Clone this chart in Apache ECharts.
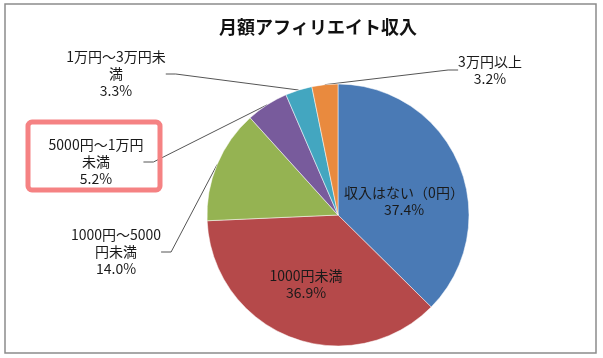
<!DOCTYPE html>
<html>
<head>
<meta charset="utf-8">
<script src="https://cdn.jsdelivr.net/npm/echarts@6/dist/echarts.min.js"></script>
<style>
html,body{margin:0;padding:0;background:#fff;}
#c{width:603px;height:358px;}
</style>
</head>
<body>
<div id="c"></div>
<script>
const title = '月額アフィリエイト収入';
const categories = ['収入はない（0円）', '1000円未満', '1000円～5000円未満', '5000円～1万円未満', '1万円～3万円未満', '3万円以上'];
const labelTexts = ['収入はない（0円）', '1000円未満', '1000円～5000\n円未満', '5000円～1万円\n未満', '1万円～3万円未\n満', '3万円以上'];
const values = [37.4, 36.9, 14.0, 5.2, 3.3, 3.2];
const colors = ['#4a7ab5', '#b5494a', '#95b352', '#785b9c', '#43a6c0', '#e98a3e'];
// label anchor positions (layout only)
const labelPos = [[404, 201], [306, 284], [116, 252], [96, 162], [116, 74], [490, 70]];
const outside = [false, false, true, true, true, true];

const chart = echarts.init(document.getElementById('c'), null, {renderer: 'canvas'});
const data = categories.map((n, i) => ({
  name: n,
  value: values[i],
  itemStyle: {color: colors[i]},
  label: {
    position: outside[i] ? 'outside' : 'inside',
    formatter: labelTexts[i] + '\n' + values[i].toFixed(1) + '%'
  },
  labelLine: {show: outside[i]}
}));
chart.setOption({
  animation: false,
  title: {
    text: title, left: 214, top: 13,
    textStyle: {fontFamily: 'Noto Sans CJK JP', fontSize: 18, fontWeight: 'bold', color: '#111'}
  },
  graphic: [
    {type: 'rect', shape: {x: 5, y: 4, width: 591, height: 349}, style: {fill: 'none', stroke: '#8c8c8c', lineWidth: 1.5}, silent: true},
    {type: 'rect', shape: {x: 28, y: 122, width: 132, height: 68, r: 4}, style: {fill: 'none', stroke: '#f58283', lineWidth: 5}, silent: true, z: 10}
  ],
  series: [{
    type: 'pie',
    center: [338, 215],
    radius: 131,
    startAngle: 90,
    clockwise: true,
    data: data,
    itemStyle: {borderColor: '#ffffff', borderWidth: 0.5},
    label: {
      fontFamily: 'Noto Sans CJK JP', fontSize: 14, color: '#1a1a1a',
      lineHeight: 17, align: 'center'
    },
    labelLine: {lineStyle: {color: '#555', width: 1}, length: 15, length2: 10},
    labelLayout: function (p) {
      const pos = labelPos[p.dataIndex];
      return {x: pos[0], y: pos[1], align: 'center', verticalAlign: 'middle'};
    }
  }]
});
</script>
</body>
</html>
